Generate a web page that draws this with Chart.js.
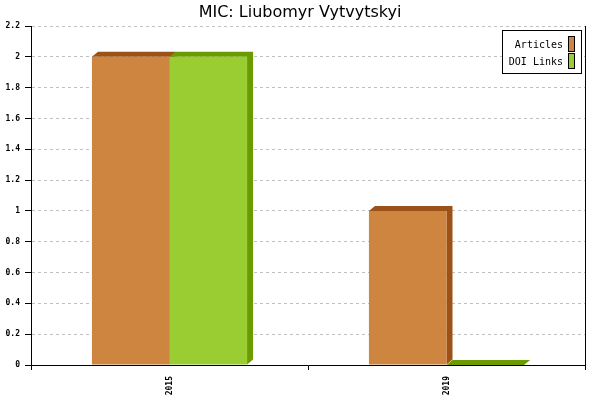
<!DOCTYPE html>
<html>
<head>
<meta charset="utf-8">
<script src="https://cdn.jsdelivr.net/npm/chart.js@4/dist/chart.umd.min.js"></script>
<style>
html,body{margin:0;padding:0;background:#fff;}
#wrap{width:600px;height:400px;position:relative;}
</style>
</head>
<body>
<div id="wrap"><canvas id="c" width="600" height="400"></canvas></div>
<script>
const chartTitle = 'MIC: Liubomyr Vytvytskyi';
const categories = ['2015', '2019'];
const seriesNames = ['Articles', 'DOI Links'];
const articles = [2, 1];
const doiLinks = [2, 0];
const yMin = 0, yMax = 2.2, yStep = 0.2;

const frontColors = ['#CD853F', '#9ACD32'];
const depthColors = ['#9C5217', '#6A9C00'];
const DX = 6, DY = 5;

const depth3d = {
  id: 'depth3d',
  beforeDatasetsDraw(chart) {
    const ctx = chart.ctx;
    chart.data.datasets.forEach((ds, i) => {
      const meta = chart.getDatasetMeta(i);
      meta.data.forEach(bar => {
        const p = bar.getProps(['x', 'y', 'base', 'width'], true);
        const l = p.x - p.width / 2, r = p.x + p.width / 2;
        ctx.save();
        ctx.fillStyle = depthColors[i];
        ctx.beginPath();
        ctx.moveTo(l, p.y);
        ctx.lineTo(l + DX, p.y - DY);
        ctx.lineTo(r + DX, p.y - DY);
        ctx.lineTo(r + DX, p.base - DY);
        ctx.lineTo(r, p.base);
        ctx.lineTo(r, p.y);
        ctx.closePath();
        ctx.fill();
        ctx.restore();
      });
    });
  }
};

const titleAndLegend = {
  id: 'titleAndLegend',
  afterDraw(chart) {
    const ctx = chart.ctx;
    ctx.save();
    ctx.fillStyle = '#000';
    ctx.font = '16px "DejaVu Sans"';
    ctx.textAlign = 'center';
    ctx.textBaseline = 'alphabetic';
    ctx.fillText(chartTitle, 300, 17);
    const bx = 502.5, by = 30.5, bw = 79, bh = 43;
    ctx.fillStyle = '#fff';
    ctx.fillRect(bx, by, bw, bh);
    ctx.strokeStyle = '#000';
    ctx.lineWidth = 1;
    ctx.strokeRect(bx, by, bw, bh);
    ctx.font = '10px "DejaVu Sans Mono"';
    ctx.textAlign = 'right';
    ctx.textBaseline = 'middle';
    seriesNames.forEach((n, i) => {
      const cy = 44 + i * 17;
      ctx.fillStyle = '#000';
      ctx.fillText(n, 563, cy + 1);
      ctx.fillStyle = frontColors[i];
      ctx.fillRect(568.5, cy - 7.5, 6, 15);
      ctx.strokeRect(568.5, cy - 7.5, 6, 15);
    });
    ctx.restore();
  }
};

new Chart(document.getElementById('c'), {
  type: 'bar',
  data: {
    labels: categories,
    datasets: [
      { label: seriesNames[0], data: articles, backgroundColor: frontColors[0], borderWidth: 0, categoryPercentage: 0.56, barPercentage: 1 },
      { label: seriesNames[1], data: doiLinks, backgroundColor: frontColors[1], borderWidth: 0, categoryPercentage: 0.56, barPercentage: 1 }
    ]
  },
  options: {
    responsive: false,
    devicePixelRatio: 1,
    animation: false,
    layout: { padding: { top: 26, right: 15, left: 0, bottom: 0 } },
    plugins: { legend: { display: false }, title: { display: false }, tooltip: { enabled: false } },
    scales: {
      x: {
        type: 'category',
        offset: true,
        grid: { offset: true, drawOnChartArea: false, tickLength: 5, color: '#000', tickColor: '#000' },
        border: { color: '#000', width: 1 },
        ticks: { minRotation: 90, maxRotation: 90, color: '#000', padding: 6, font: { family: 'DejaVu Sans Mono', size: 8, weight: 'bold' } },
        afterFit(s) { s.height = 35; }
      },
      y: {
        min: yMin, max: yMax,
        grid: { color: '#c0c0c0', tickColor: '#000', tickLength: 6, lineWidth: 1 },
        border: { color: '#000', width: 1, dash: [3, 3] },
        ticks: { stepSize: yStep, color: '#000', padding: 5, font: { family: 'DejaVu Sans Mono', size: 8, weight: 'bold' },
          callback: v => String(+v.toFixed(1)) },
        afterFit(s) { s.width = 31; }
      },
      y2: {
        position: 'right',
        display: true,
        ticks: { display: false },
        grid: { drawOnChartArea: false, drawTicks: false },
        border: { color: '#000', width: 1 },
        afterFit(s) { s.width = 0; }
      }
    }
  },
  plugins: [depth3d, titleAndLegend]
});
</script>
</body>
</html>
